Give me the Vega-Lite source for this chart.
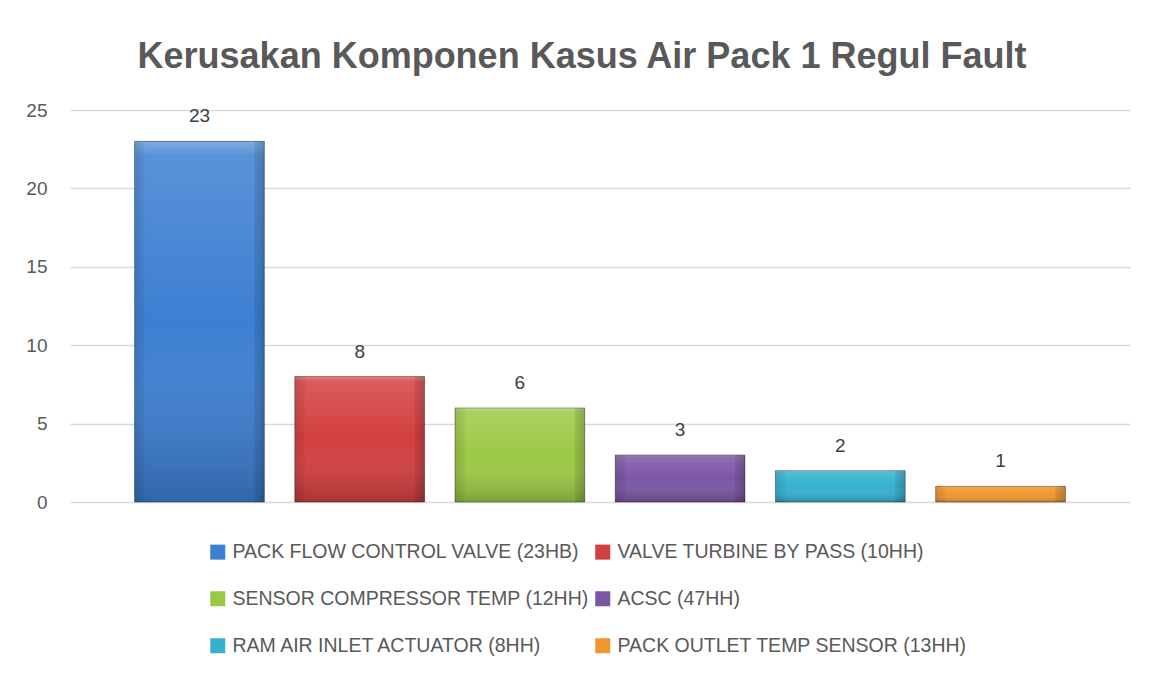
{
  "$schema": "https://vega.github.io/schema/vega-lite/v6.json",
  "width": 1060,
  "height": 392,
  "autosize": "none",
  "padding": {"left": 70, "top": 110, "right": 27, "bottom": 173},
  "background": "white",
  "title": {
    "text": "Kerusakan Komponen Kasus Air Pack 1 Regul Fault",
    "font": "Liberation Sans",
    "fontSize": 36,
    "fontWeight": "bold",
    "color": "#595959",
    "anchor": "middle",
    "dx": -18,
    "offset": 25
  },
  "data": {
    "values": [
      {"komponen": "PACK FLOW CONTROL VALVE (23HB)", "jumlah": 23},
      {"komponen": "VALVE TURBINE BY PASS (10HH)", "jumlah": 8},
      {"komponen": "SENSOR COMPRESSOR TEMP (12HH)", "jumlah": 6},
      {"komponen": "ACSC (47HH)", "jumlah": 3},
      {"komponen": "RAM AIR INLET ACTUATOR (8HH)", "jumlah": 2},
      {"komponen": "PACK OUTLET TEMP SENSOR (13HH)", "jumlah": 1}
    ]
  },
  "encoding": {
    "x": {
      "field": "komponen",
      "type": "nominal",
      "sort": null,
      "axis": null,
      "scale": {"paddingInner": 0.19, "paddingOuter": 0.403}
    },
    "y": {
      "field": "jumlah",
      "type": "quantitative",
      "scale": {"domain": [0, 25]},
      "axis": {
        "title": null,
        "values": [0, 5, 10, 15, 20, 25],
        "domain": false,
        "ticks": false,
        "grid": true,
        "gridColor": "#d9d9d9",
        "gridWidth": 1.5,
        "labelFont": "Liberation Sans",
        "labelFontSize": 19,
        "labelColor": "#595959",
        "labelPadding": 23
      }
    }
  },
  "layer": [
    {
      "mark": {"type": "bar"},
      "encoding": {
        "color": {
          "field": "komponen",
          "type": "nominal",
          "sort": null,
          "scale": {
            "domain": [
              "PACK FLOW CONTROL VALVE (23HB)",
              "VALVE TURBINE BY PASS (10HH)",
              "SENSOR COMPRESSOR TEMP (12HH)",
              "ACSC (47HH)",
              "RAM AIR INLET ACTUATOR (8HH)",
              "PACK OUTLET TEMP SENSOR (13HH)"
            ],
            "range": ["#3d7fd2", "#d43f3f", "#9cc945", "#7b56a5", "#35b1d0", "#f0962f"]
          },
          "legend": {
            "title": null,
            "orient": "none",
            "legendX": 138,
            "legendY": 432,
            "direction": "horizontal",
            "columns": 2,
            "symbolType": "square",
            "symbolSize": 225,
            "symbolStrokeWidth": 0,
            "labelFont": "Liberation Sans",
            "labelFontSize": 19.5,
            "labelColor": "#595959",
            "labelLimit": 600,
            "labelOffset": 5,
            "columnPadding": 4,
            "rowPadding": 26
          }
        }
      }
    },
    {
      "mark": {
        "type": "bar",
        "fill": {
          "gradient": "linear",
          "x1": 0, "y1": 0, "x2": 0, "y2": 1,
          "stops": [
            {"offset": 0, "color": "rgba(255,255,255,0.35)"},
            {"offset": 0.04, "color": "rgba(255,255,255,0.15)"},
            {"offset": 0.5, "color": "rgba(255,255,255,0)"},
            {"offset": 1, "color": "rgba(0,0,0,0.2)"}
          ]
        },
        "stroke": "rgba(0,0,0,0.35)",
        "strokeWidth": 1
      }
    },
    {
      "mark": {
        "type": "bar",
        "fill": {
          "gradient": "linear",
          "x1": 0, "y1": 0, "x2": 1, "y2": 0,
          "stops": [
            {"offset": 0, "color": "rgba(0,0,0,0.12)"},
            {"offset": 0.075, "color": "rgba(0,0,0,0.04)"},
            {"offset": 0.08, "color": "rgba(0,0,0,0)"},
            {"offset": 0.92, "color": "rgba(0,0,0,0)"},
            {"offset": 0.925, "color": "rgba(0,0,0,0.08)"},
            {"offset": 1, "color": "rgba(0,0,0,0.2)"}
          ]
        }
      }
    },
    {
      "mark": {
        "type": "text",
        "baseline": "middle",
        "dy": -25,
        "font": "Liberation Sans",
        "fontSize": 19,
        "color": "#404040"
      },
      "encoding": {"text": {"field": "jumlah", "type": "quantitative"}}
    }
  ],
  "config": {"view": {"stroke": null}}
}
